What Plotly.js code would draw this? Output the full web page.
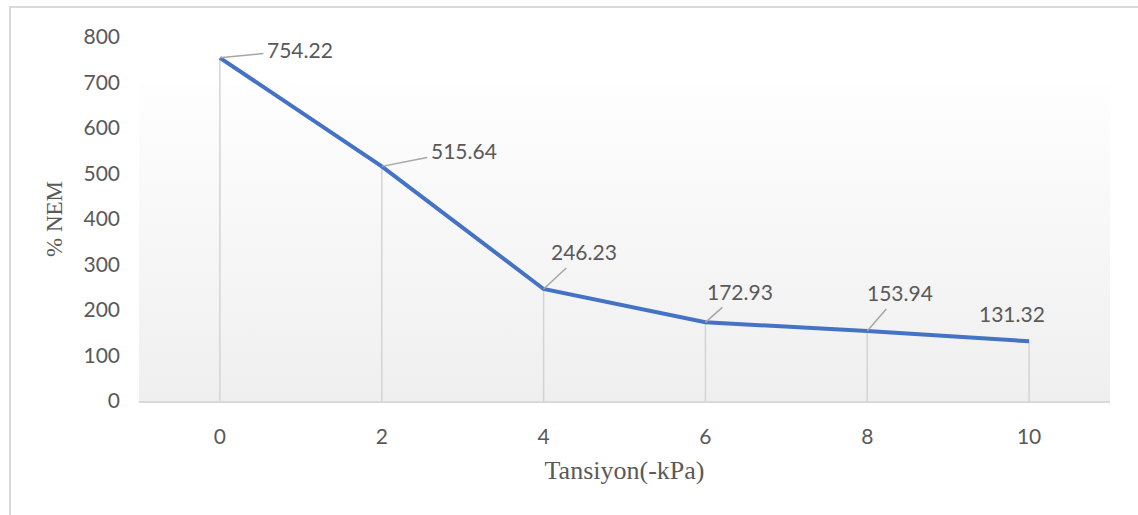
<!DOCTYPE html>
<html>
<head>
<meta charset="utf-8">
<script src="https://cdn.plot.ly/plotly-3.0.1.min.js"></script>
<style>
  html, body { margin: 0; padding: 0; background: #ffffff; overflow: hidden; }
  #chart { width: 1138px; height: 515px; position: absolute; left: 0; top: 0; }
  #frame { position: absolute; left: 9px; top: 6px; width: 1200px; height: 600px;
           border: 2px solid #d9d9d9; pointer-events: none; box-sizing: border-box; }
</style>
</head>
<body>
<div id="chart"></div>
<div id="frame"></div>
<script>
// ---- data ----
const categories = ["0", "2", "4", "6", "8", "10"];
const nemValues = [754.22, 515.64, 246.23, 172.93, 153.94, 131.32];
const yTickValues = [0, 100, 200, 300, 400, 500, 600, 700, 800];
const xTitle = "Tansiyon(-kPa)";
const yTitle = "% NEM";

// label offsets (pixels) for data labels
const labelDx = [80, 82, 40, 35, 33, -17];
const labelDy = [-8, -16, -37, -31, -38, -28];
const labelLeader = [true, true, true, true, true, false];

const numFont = "Lato, 'Open Sans', sans-serif";
const serifFont = "'Liberation Serif', 'DejaVu Serif', serif";
const textColor = "#595959";

const trace = {
  x: categories,
  y: nemValues,
  type: "scatter",
  mode: "lines",
  line: { color: "#4472C4", width: 4 },
  error_y: {
    type: "data",
    symmetric: false,
    array: nemValues.map(() => 0),
    arrayminus: nemValues,
    color: "#d4d4d4",
    thickness: 1.5,
    width: 0
  },
  hoverinfo: "x+y",
  showlegend: false
};

const annotations = categories.map((c, i) => ({
  x: i,
  y: nemValues[i],
  xref: "x",
  yref: "y",
  text: nemValues[i].toFixed(2),
  showarrow: true,
  arrowhead: 0,
  arrowwidth: 1.5,
  arrowcolor: labelLeader[i] ? "#a6a6a6" : "rgba(0,0,0,0)",
  ax: labelDx[i],
  ay: labelDy[i],
  font: { family: numFont, size: 21, color: textColor },
  borderpad: 3
}));

const gradSvg = "<svg xmlns='http://www.w3.org/2000/svg' width='100' height='100' preserveAspectRatio='none'>" +
  "<defs><linearGradient id='g' x1='0' y1='0' x2='0' y2='1'>" +
  "<stop offset='0' stop-color='#fefefe'/><stop offset='1' stop-color='#efefef'/>" +
  "</linearGradient></defs><rect width='100' height='100' fill='url(#g)'/></svg>";

const layout = {
  width: 1138,
  height: 515,
  margin: { l: 139, r: 28, t: 37, b: 114 },
  paper_bgcolor: "rgba(0,0,0,0)",
  plot_bgcolor: "rgba(0,0,0,0)",
  images: [{
    source: "data:image/svg+xml;charset=utf-8," + encodeURIComponent(gradSvg),
    xref: "paper", yref: "y",
    x: 0, y: 700, sizex: 1, sizey: 700,
    sizing: "stretch", layer: "below",
    xanchor: "left", yanchor: "top"
  }],
  xaxis: {
    type: "category",
    range: [-0.5, 5.5],
    showgrid: false,
    zeroline: false,
    showline: true,
    linecolor: "#d9d9d9",
    linewidth: 2,
    ticks: "",
    ticklabelstandoff: 16,
    tickfont: { family: numFont, size: 21, color: textColor },
    title: { text: xTitle, font: { family: serifFont, size: 26, color: textColor }, standoff: 14 }
  },
  yaxis: {
    range: [0, 800],
    tickvals: yTickValues,
    showgrid: false,
    zeroline: false,
    showline: false,
    ticks: "",
    ticklabelstandoff: 18,
    tickfont: { family: numFont, size: 21, color: textColor },
    title: { text: yTitle, font: { family: serifFont, size: 23, color: textColor }, standoff: 14 }
  },
  annotations: annotations
};

Plotly.newPlot("chart", [trace], layout, { displayModeBar: false, staticPlot: true });
</script>
</body>
</html>
